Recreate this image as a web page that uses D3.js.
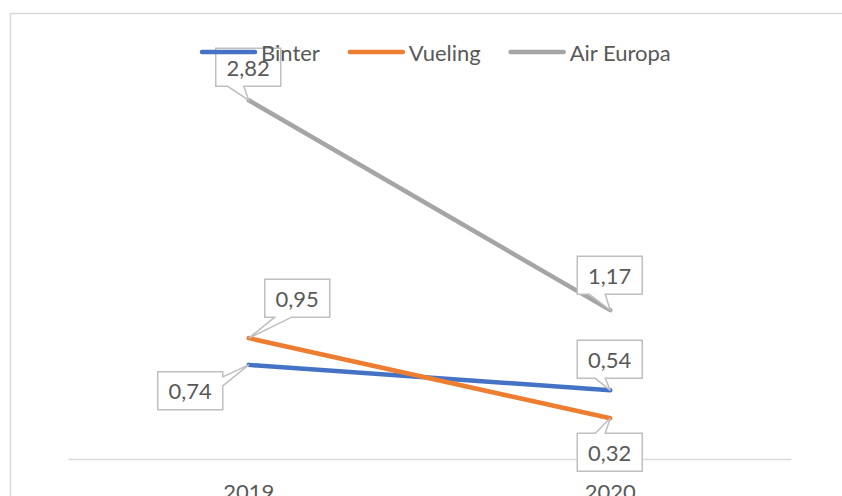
<!DOCTYPE html>
<html>
<head>
<meta charset="utf-8">
<script src="https://cdn.jsdelivr.net/npm/d3@7"></script>
<style>
  html, body { margin: 0; padding: 0; background: #fff; }
  svg { display: block; }
  text { font-family: Lato, "Open Sans", sans-serif; fill: #595959; }
</style>
</head>
<body>
<div id="chart"></div>
<script>

// chart values
var years = ["2019", "2020"];
var seriesNames = ["Binter", "Vueling", "Air Europa"];
var binter = [0.74, 0.54];
var vueling = [0.95, 0.32];
var airEuropa = [2.82, 1.17];
var colors = ["#4472C4", "#ED7D31", "#A5A5A5"];

// where each callout box sits relative to its point: [dx, dy, side of wedge, wedge start, wedge end]
var calloutLayout = [
    [[-91, 7, "right", 5, 14], [-33, -50, "bottom", 18, 28]],
    [[16, -59, "bottom", 10, 27], [-33, 15, "top", 18, 28]],
    [[-33, -52, "bottom", 12, 28], [-33, -54, "bottom", 12, 28]]
];

var width = 842,
    height = 496;

var svg = d3.select("#chart").append("svg")
    .attr("width", width)
    .attr("height", height);

// outer chart frame
svg.append("rect")
    .attr("x", 10.5)
    .attr("y", 13.5)
    .attr("width", 840)
    .attr("height", 500)
    .attr("fill", "#fff")
    .attr("stroke", "#d9d9d9")
    .attr("stroke-width", 1.5);

var x = d3.scaleBand()
    .domain(years)
    .range([68, 791]);

var y = d3.scaleLinear()
    .domain([0, 3])
    .range([459, 77.4]);

// category axis
var xAxis = svg.append("g")
    .attr("transform", "translate(0," + y(0) + ")")
    .call(d3.axisBottom(x).tickSize(0).tickPadding(25));

xAxis.select(".domain")
    .attr("stroke", "#d9d9d9")
    .attr("stroke-width", 1.5);

xAxis.selectAll("text")
    .attr("font-size", 22)
    .attr("fill", "#595959")
    .style("font-family", "Lato, sans-serif");

var series = seriesNames.map(function(name, i) {
    var vals = [binter, vueling, airEuropa][i];
    return {
        name: name,
        color: colors[i],
        points: years.map(function(yr, j) {
            return { year: yr, value: vals[j], layout: calloutLayout[i][j] };
        })
    };
});

var line = d3.line()
    .x(function(d) { return x(d.year) + x.bandwidth() / 2; })
    .y(function(d) { return y(d.value); });

svg.append("g")
    .selectAll("path")
    .data(series)
    .enter().append("path")
    .attr("d", function(d) { return line(d.points); })
    .attr("fill", "none")
    .attr("stroke", function(d) { return d.color; })
    .attr("stroke-width", 4.5)
    .attr("stroke-linecap", "round");

// callout box with a little wedge pointing at the data point
function calloutPath(px, py, L) {
    var w = 65, h = 38;
    var x0 = px + L[0], y0 = py + L[1], x1 = x0 + w, y1 = y0 + h;
    var side = L[2], a = L[3], b = L[4];
    var p = ["M" + x0 + "," + y0];
    if (side == "top") p.push("L" + (x0 + a) + "," + y0, "L" + px + "," + py, "L" + (x0 + b) + "," + y0);
    p.push("L" + x1 + "," + y0);
    if (side == "right") p.push("L" + x1 + "," + (y0 + a), "L" + px + "," + py, "L" + x1 + "," + (y0 + b));
    p.push("L" + x1 + "," + y1);
    if (side == "bottom") p.push("L" + (x0 + b) + "," + y1, "L" + px + "," + py, "L" + (x0 + a) + "," + y1);
    p.push("L" + x0 + "," + y1, "Z");
    return p.join("");
}

var fmt = function(v) { return d3.format(".2f")(v).replace(".", ","); };

var labels = svg.append("g")
    .selectAll("g")
    .data(series.reduce(function(acc, s) { return acc.concat(s.points); }, []))
    .enter().append("g");

labels.append("path")
    .attr("d", function(d) {
        return calloutPath(x(d.year) + x.bandwidth() / 2, y(d.value), d.layout);
    })
    .attr("fill", "#fff")
    .attr("stroke", "#bfbfbf")
    .attr("stroke-width", 1.5);

labels.append("text")
    .attr("x", function(d) { return x(d.year) + x.bandwidth() / 2 + d.layout[0] + 32.5; })
    .attr("y", function(d) { return y(d.value) + d.layout[1] + 19; })
    .attr("text-anchor", "middle")
    .attr("dominant-baseline", "central")
    .attr("font-size", 22)
    .text(function(d) { return fmt(d.value); });

// legend
var legend = svg.append("g");
var lx = 200;
series.forEach(function(s) {
    legend.append("line")
        .attr("x1", lx + 2)
        .attr("x2", lx + 55)
        .attr("y1", 52)
        .attr("y2", 52)
        .attr("stroke", s.color)
        .attr("stroke-width", 4.5)
        .attr("stroke-linecap", "round");
    var t = legend.append("text")
        .attr("x", lx + 61)
        .attr("y", 52)
        .attr("dominant-baseline", "central")
        .attr("font-size", 22)
        .text(s.name);
    lx += 61 + t.node().getComputedTextLength() + 28;
});

</script>
</body>
</html>
